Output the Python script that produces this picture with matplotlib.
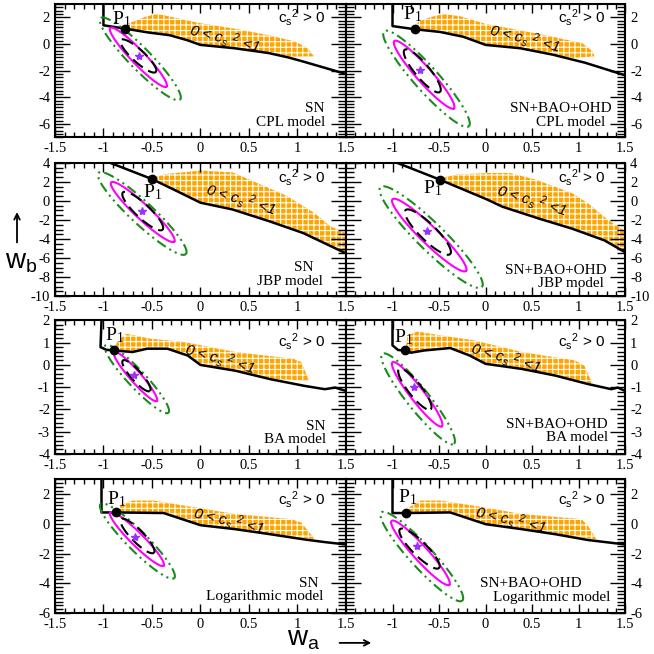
import numpy as np
import matplotlib
matplotlib.use('Agg')
import matplotlib.pyplot as plt
from matplotlib.patches import Polygon, FancyArrowPatch
from matplotlib.ticker import MultipleLocator

plt.rcParams['font.family'] = 'Liberation Serif'
plt.rcParams['mathtext.fontset'] = 'custom'
plt.rcParams['mathtext.rm'] = 'Liberation Sans'
plt.rcParams['mathtext.it'] = 'Liberation Sans:italic'
plt.rcParams['mathtext.default'] = 'regular'
plt.rcParams['axes.unicode_minus'] = False
plt.rcParams['hatch.linewidth'] = 0.8
plt.rcParams['hatch.color'] = 'white'

# panel order: CPL SN, CPL full, JBP SN, JBP full, BA SN, BA full, Log SN, Log full
models = ['CPL model', 'JBP model', 'BA model', 'Logarithmic model']
datasets = ['SN', 'SN+BAO+OHD']
ylims = [(-7, 3), (-10, 4), (-4, 2), (-6, 3)]
ymajor = [2, 2, 1, 2]
yminor = [0.25, 0.5, 0.2, 0.25]

# c_s^2 = 0 boundary (thick black line)
line_x = [
    [-1, -1, -0.78, -0.53, -0.32, -0.14, 0, 0.35, 0.7, 0.9, 1.05, 1.5],
    [-1, -1, -0.76, -0.49, -0.24, 0, 0.37, 0.72, 1.07, 1.5],
    [-0.95, -0.5, -0.27, 0, 0.33, 0.71, 1.06, 1.5],
    [-0.95, -0.49, 0.01, 0.18, 0.57, 0.93, 1.28, 1.5],
    [-1.02, -1.03, -0.97, -0.89, -0.7, -0.55, -0.34, -0.13, 0, 0.36, 0.72, 1.07, 1.28, 1.39, 1.5],
    [-1, -1, -0.94, -0.87, -0.8, -0.66, -0.38, -0.17, 0, 0.39, 0.75, 1.1, 1.35, 1.42, 1.5],
    [-1.02, -1.02, -0.87, -0.38, 0, 0.36, 0.72, 1.07, 1.28, 1.5],
    [-1, -1, -0.85, -0.38, 0, 0.39, 0.75, 1.1, 1.5],
]
line_y = [
    [3, 1.4, 1.15, 0.85, 0.66, 0.29, -0.07, -0.32, -0.68, -1.0, -1.3, -2.25],
    [3, 1.34, 1.1, 0.9, 0.54, -0.07, -0.32, -0.8, -1.41, -2.35],
    [4.08, 2.3, 1.17, -0.18, -0.89, -2.13, -3.37, -5.5],
    [4.0, 2.23, 0.18, -0.6, -1.84, -2.91, -4.15, -5.39],
    [2, 0.8, 0.68, 0.65, 0.58, 0.73, 0.73, 0.42, 0, -0.26, -0.64, -0.94, -1.09, -1.02, -1.17],
    [2, 0.88, 0.67, 0.65, 0.55, 0.65, 0.76, 0.42, 0.05, -0.18, -0.48, -0.86, -1.09, -1.02, -1.17],
    [3, 0.77, 0.77, 0.73, -0.09, -0.36, -0.7, -1.05, -1.23, -1.39],
    [3, 0.73, 0.73, 0.77, -0.02, -0.36, -0.7, -1.09, -1.39],
]

# 0 < c_s^2 < 1 region: upper edge then lower edge
region_top_x = [
    [-0.77, -0.75, -0.6, -0.47, -0.39, -0.14, 0, 0.35, 0.7, 0.98, 1.1, 1.17],
    [-0.75, -0.73, -0.6, -0.45, -0.27, 0, 0.37, 0.72, 1.04, 1.15, 1.17],
    [-0.48, -0.34, 0, 0.33, 0.57, 0.89, 1.17, 1.34, 1.5],
    [-0.47, -0.31, 0.04, 0.26, 0.54, 0.93, 1.1, 1.32, 1.5],
    [-0.89, -0.86, -0.77, -0.52, -0.17, 0.36, 0.96, 1.04, 1.12],
    [-0.86, -0.84, -0.73, -0.49, -0.13, 0.39, 0.96, 1.06, 1.15],
    [-0.84, -0.84, -0.7, -0.48, -0.17, 0.36, 0.93, 1.04, 1.18],
    [-0.82, -0.82, -0.7, -0.49, -0.13, 0.39, 1.03, 1.1, 1.19],
]
region_top_y = [
    [1.15, 1.5, 1.95, 2.24, 2.17, 1.76, 1.55, 1.15, 0.66, 0.17, -0.3, -0.93],
    [1.12, 1.63, 2.0, 2.24, 2.07, 1.5, 1.02, 0.54, 0.05, -0.56, -0.93],
    [2.48, 2.84, 3.19, 3.0, 1.95, 0.53, -1.24, -2.66, -3.37],
    [2.41, 2.77, 2.94, 2.94, 2.23, 0.82, -0.25, -2.02, -3.2],
    [0.7, 1.03, 1.41, 1.18, 1.03, 0.58, 0.27, 0.12, -0.71],
    [0.7, 1.33, 1.5, 1.33, 1.11, 0.58, 0.2, -0.03, -0.86],
    [0.8, 1.23, 1.57, 1.57, 1.23, 0.66, 0.32, 0.09, -1.05],
    [0.75, 1.11, 1.57, 1.57, 1.23, 0.66, 0.32, -0.14, -1.05],
]
region_bot_x = [
    [1.17, 0.9, 0.7, 0.35, 0, -0.14, -0.32, -0.53, -0.77],
    [1.17, 0.95, 0.72, 0.37, 0, -0.24, -0.49, -0.75],
    [1.5, 1.06, 0.71, 0.33, 0, -0.27, -0.48],
    [1.5, 1.28, 0.93, 0.57, 0.18, 0.01, -0.47],
    [1.12, 0.72, 0.36, 0, -0.13, -0.34, -0.55, -0.7, -0.89],
    [1.15, 0.75, 0.39, 0, -0.17, -0.38, -0.66, -0.8, -0.86],
    [1.18, 0.72, 0.36, 0, -0.38, -0.84],
    [1.19, 0.75, 0.39, 0, -0.38, -0.82],
]
region_bot_y = [
    [-0.93, -0.95, -0.66, -0.3, -0.05, 0.31, 0.68, 0.87, 1.15],
    [-0.93, -1.05, -0.78, -0.3, -0.05, 0.56, 0.92, 1.12],
    [-5.55, -3.37, -2.13, -0.89, -0.18, 1.17, 2.3],
    [-5.35, -4.15, -2.91, -1.84, -0.6, 0.18, 2.2],
    [-0.71, -0.62, -0.24, 0.02, 0.44, 0.75, 0.75, 0.6, 0.67],
    [-0.86, -0.46, -0.16, 0.07, 0.44, 0.78, 0.67, 0.57, 0.65],
    [-1.05, -0.68, -0.34, -0.07, 0.75, 0.79],
    [-1.05, -0.68, -0.34, 0.0, 0.79, 0.75],
]

p1_x = [-0.78, -0.76, -0.5, -0.49, -0.89, -0.87, -0.87, -0.85]
p1_y = [1.15, 1.1, 2.3, 2.23, 0.65, 0.65, 0.77, 0.73]
best_x = [-0.63, -0.71, -0.6, -0.63, -0.68, -0.77, -0.67, -0.74]
best_y = [-0.93, -1.95, -1.06, -3.16, -0.45, -0.98, -0.86, -1.5]

# confidence contours: ends of the long axis (x1, y1, x2, y2)
inner_ends = [
    (-0.82, 0.3, -0.46, -2.1), (-0.87, -0.44, -0.49, -3.6),
    (-0.8, 0.89, -0.39, -3.01), (-0.86, -0.96, -0.38, -5.57),
    (-0.8, 0.2, -0.52, -1.17), (-0.93, -0.18, -0.59, -2.0),
    (-0.82, 0.32, -0.48, -1.95), (-0.92, -0.36, -0.5, -2.98),
]
mid_ends = [
    (-0.93, 1.2, -0.35, -3.2), (-0.98, 0.22, -0.34, -4.83),
    (-0.92, 1.95, -0.27, -4.26), (-1.0, 0.18, -0.21, -7.34),
    (-0.89, 0.58, -0.45, -1.62), (-1.0, 0.12, -0.47, -2.76),
    (-0.93, 0.77, -0.38, -2.82), (-1.01, 0.2, -0.39, -4.11),
]
outer_ends = [
    (-1.03, 1.93, -0.21, -4.17), (-1.09, 0.95, -0.18, -6.17),
    (-1.05, 2.94, -0.15, -5.57), (-1.13, 1.45, -0.04, -9.04),
    (-0.98, 0.88, -0.33, -2.15), (-1.11, 0.5, -0.34, -3.55),
    (-1.03, 1.34, -0.27, -3.66), (-1.12, 0.77, -0.25, -5.18),
]
width_ratio = {'inner': 0.26, 'mid': 0.17, 'outer': 0.19}

# label positions
p1_label_x = [-0.91, -0.89, -0.59, -0.67, -0.98, -0.98, -0.96, -0.94]
p1_label_y = [1.5, 1.88, 0.35, 0.82, 1.1, 1.03, 1.34, 1.45]
band_label_x = [0.25, 0.42, 0.41, 0.5, 0.2, 0.22, 0.29, 0.27]
band_label_y = [0.37, 0.37, 0.18, 0.04, 0.27, 0.3, 0.2, 0.27]
band_label_rot = [-14, -14, -17, -17, -16, -16, -13, -13]
cs_label_y = [0.9, 0.89, 0.84, 0.85]
ds_label_x = [0.927, 0.953, 0.89, 0.934, 0.928, 0.937, 0.904, 0.843]
ds_label_y = [0.217, 0.217, 0.215, 0.195, 0.207, 0.22, 0.217, 0.217]
mdl_label_x = [0.93, 0.929, 0.919, 0.923, 0.933, 0.937, 0.922, 0.948]
mdl_label_y = [0.112, 0.112, 0.114, 0.094, 0.106, 0.126, 0.122, 0.116]

fig = plt.figure(figsize=(6.54, 6.54), dpi=100)
row_bottoms = [0.790, 0.547, 0.306, 0.063]
col_lefts = [0.084, 0.529]
col_widths = [0.445, 0.427]
row_h = 0.204


def draw_ellipse(ax, ends, ratio, **kw):
    x1, y1, x2, y2 = ends
    p1 = ax.transData.transform((x1, y1))
    p2 = ax.transData.transform((x2, y2))
    c = (p1 + p2) / 2
    a = (p2 - p1) / 2
    b = np.array([-a[1], a[0]]) * ratio
    t = np.linspace(0, 2 * np.pi, 300)
    pts = c + np.outer(np.cos(t), a) + np.outer(np.sin(t), b)
    d = ax.transData.inverted().transform(pts)
    ax.plot(d[:, 0], d[:, 1], **kw)


for r in range(4):
    for c in range(2):
        i = 2 * r + c
        ax = fig.add_axes([col_lefts[c], row_bottoms[r], col_widths[c], row_h])
        ax.set_xlim(-1.5, 1.5)
        ax.set_ylim(*ylims[r])
        for s in ax.spines.values():
            s.set_linewidth(1.5)

        xt = [-1.5, -1, -0.5, 0, 0.5, 1, 1.5]
        xl = ['-1.5', '-1', '-0.5', '0', '0.5', '1', '1.5']
        if c == 1:
            xt, xl = xt[1:], xl[1:]
        ax.set_xticks(xt, xl)
        ax.xaxis.set_minor_locator(MultipleLocator(0.1))
        yt = np.arange(np.ceil(ylims[r][0] / ymajor[r]) * ymajor[r], ylims[r][1] + 0.01, ymajor[r])
        ax.set_yticks(yt, [str(int(v)) for v in yt])
        ax.yaxis.set_minor_locator(MultipleLocator(yminor[r]))
        ax.tick_params(which='both', direction='in', top=True, right=True,
                       labelsize=10.5, width=1)
        ax.tick_params(axis='x', which='major', length=6.5, pad=3.5)
        ax.tick_params(axis='x', which='minor', length=3.5)
        ax.tick_params(axis='y', which='major', length=11)
        ax.tick_params(axis='y', which='minor', length=5.5)
        if c == 1:
            ax.tick_params(axis='y', labelleft=False, labelright=True)

        verts = list(zip(region_top_x[i], region_top_y[i])) + list(zip(region_bot_x[i], region_bot_y[i]))
        ax.add_patch(Polygon(verts, closed=True, facecolor='#ffa500', edgecolor='white',
                             hatch='+++', linewidth=0, zorder=1))
        ax.plot(line_x[i], line_y[i], color='black', lw=1.8, zorder=3)

        draw_ellipse(ax, outer_ends[i], width_ratio['outer'], color='#1a8c1a', lw=1.5,
                     dashes=(5, 2, 1, 2, 1, 2), zorder=4)
        draw_ellipse(ax, mid_ends[i], width_ratio['mid'], color='#ff00ff', lw=1.5, zorder=4)
        draw_ellipse(ax, inner_ends[i], width_ratio['inner'], color='black', lw=1.5,
                     dashes=(6, 3), zorder=4)
        ax.plot(best_x[i], best_y[i], marker='*', color='#9b30ff', ms=6, zorder=5)
        ax.plot(p1_x[i], p1_y[i], 'o', color='black', ms=6, zorder=6)

        ax.text(p1_label_x[i], p1_label_y[i], r'P$_1$', fontsize=14, zorder=7)
        ax.text(band_label_x[i], band_label_y[i], r'0 < c$_s$ $^2$ <1', family='Liberation Sans',
                style='italic', fontsize=11, rotation=band_label_rot[i],
                ha='center', va='center', rotation_mode='anchor', zorder=7)
        ax.text(0.93, cs_label_y[r], r'c$_s$$^2$ > 0', transform=ax.transAxes,
                family='Liberation Sans', fontsize=11, ha='right', va='center')
        ax.text(ds_label_x[i], ds_label_y[i], datasets[c], transform=ax.transAxes,
                fontsize=11, ha='right', va='center')
        ax.text(mdl_label_x[i], mdl_label_y[i], models[r], transform=ax.transAxes,
                fontsize=11, ha='right', va='center')

fig.text(0.032, 0.6, r'w$_b$', family='Liberation Sans', fontsize=20, ha='center', va='center')
fig.patches.append(FancyArrowPatch(
    (0.026, 0.625), (0.026, 0.68), transform=fig.transFigure,
    arrowstyle='->', mutation_scale=10, lw=1.3, color='black'))
fig.text(0.465, 0.013, r'w$_a$', family='Liberation Sans', fontsize=20, ha='center', va='baseline')
fig.patches.append(FancyArrowPatch(
    (0.515, 0.017), (0.572, 0.017), transform=fig.transFigure,
    arrowstyle='->', mutation_scale=10, lw=1.3, color='black'))

fig.savefig('out.png', dpi=100)
